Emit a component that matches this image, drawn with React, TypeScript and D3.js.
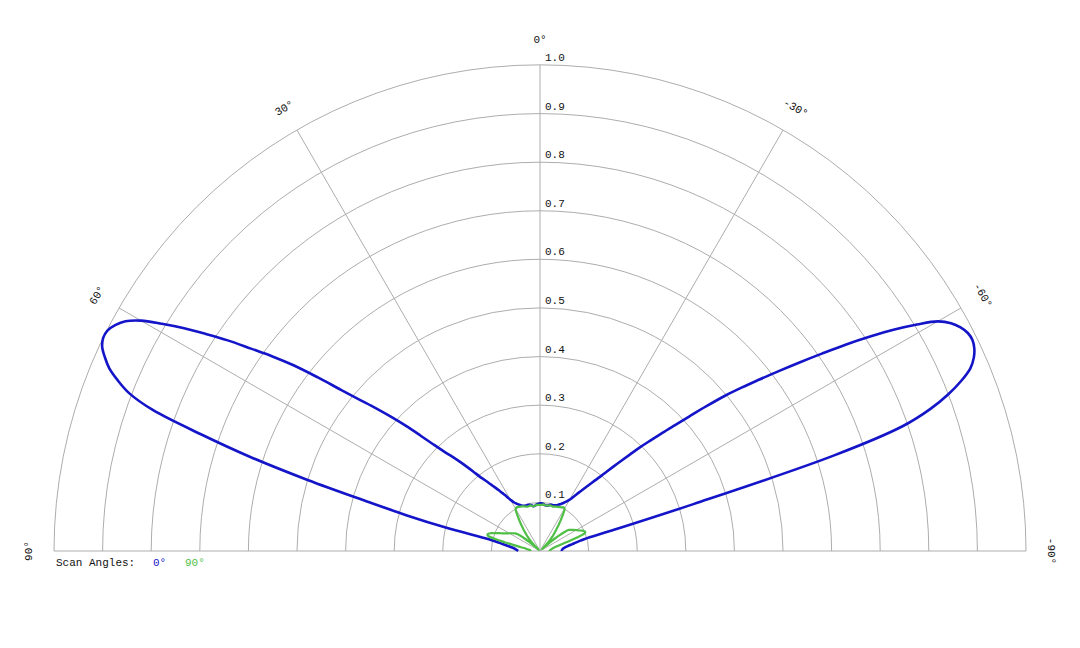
import React from "react";
import * as d3 from "d3";

// ---- data ----
const angles = [
  -90, -88, -86, -84, -82, -80,
  -79, -78, -77, -76, -75, -74, -73, -72, -71, -70,
  -69, -68, -67, -66, -65, -64, -63, -62, -61, -60,
  -59, -58, -57, -56, -55, -54, -53, -52, -51, -50,
  -49, -48, -47, -46, -45, -44, -43, -42, -41, -40,
  -39, -38, -37, -36, -35, -34, -33, -32, -31, -30,
  -28, -26, -24, -22, -20, -18, -16, -14, -12, -10, -8, -6, -4, -2,
  0,
  2, 4, 6, 8, 10, 12, 14, 16, 18, 20, 22, 24, 26, 28,
  30, 31, 32, 33, 34, 35, 36, 37, 38, 39,
  40, 41, 42, 43, 44, 45, 46, 47, 48, 49,
  50, 51, 52, 53, 54, 55, 56, 57, 58, 59,
  60, 61, 62, 63, 64, 65, 66, 67, 68, 69,
  70, 71, 72, 73, 74, 75, 76, 77, 78, 79,
  80, 82, 84, 86, 88, 90,
];

// Scan angle 0°
const scan0 = [
  0.045, 0.045, 0.046, 0.048, 0.052, 0.058,
  0.062, 0.068, 0.074, 0.082, 0.094, 0.16, 0.33, 0.635, 0.79, 0.855,
  0.9, 0.935, 0.962, 0.977, 0.986, 0.99, 0.988, 0.98, 0.967, 0.945,
  0.905, 0.86, 0.81, 0.76, 0.708, 0.66, 0.615, 0.573, 0.535, 0.497,
  0.455, 0.415, 0.38, 0.35, 0.322, 0.297, 0.272, 0.25, 0.23, 0.212,
  0.197, 0.185, 0.174, 0.164, 0.155, 0.147, 0.14, 0.133, 0.127, 0.122,
  0.115, 0.11, 0.106, 0.103, 0.1, 0.099, 0.098, 0.098, 0.097, 0.095, 0.094, 0.095, 0.097, 0.098,
  0.098,
  0.097, 0.096, 0.094, 0.093, 0.095, 0.097, 0.098, 0.098, 0.098, 0.099, 0.101, 0.104, 0.108, 0.113,
  0.122, 0.128, 0.135, 0.142, 0.15, 0.158, 0.166, 0.176, 0.186, 0.197,
  0.213, 0.23, 0.248, 0.266, 0.285, 0.31, 0.342, 0.378, 0.413, 0.448,
  0.484, 0.527, 0.58, 0.635, 0.682, 0.726, 0.775, 0.82, 0.866, 0.908,
  0.948, 0.975, 0.99, 0.999, 1.0, 0.994, 0.98, 0.963, 0.937, 0.905,
  0.847, 0.738, 0.628, 0.5, 0.372, 0.285, 0.2, 0.108, 0.092, 0.082,
  0.074, 0.062, 0.054, 0.05, 0.047, 0.045,
];

// Scan angle 90°
const scan90 = [
  0.02, 0.02, 0.021, 0.022, 0.023, 0.025,
  0.026, 0.027, 0.029, 0.031, 0.034, 0.038, 0.044, 0.052, 0.065, 0.08,
  0.094, 0.1, 0.101, 0.1, 0.098, 0.096, 0.093, 0.09, 0.088, 0.086,
  0.084, 0.082, 0.08, 0.078, 0.076, 0.074, 0.07, 0.062, 0.052, 0.04,
  0.028, 0.016, 0.008, 0.006, 0.011, 0.018, 0.025, 0.031, 0.037, 0.042,
  0.047, 0.052, 0.057, 0.063, 0.069, 0.076, 0.083, 0.09, 0.097, 0.101,
  0.102, 0.1, 0.099, 0.098, 0.097, 0.096, 0.095, 0.096, 0.096, 0.095, 0.094, 0.095, 0.096, 0.095,
  0.095,
  0.095, 0.095, 0.094, 0.093, 0.094, 0.096, 0.095, 0.095, 0.096, 0.098, 0.099, 0.1, 0.101, 0.102,
  0.1, 0.096, 0.089, 0.082, 0.076, 0.07, 0.064, 0.058, 0.053, 0.048,
  0.043, 0.038, 0.033, 0.027, 0.02, 0.013, 0.007, 0.004, 0.01, 0.02,
  0.03, 0.04, 0.05, 0.057, 0.061, 0.063, 0.065, 0.067, 0.069, 0.071,
  0.073, 0.075, 0.077, 0.08, 0.083, 0.086, 0.09, 0.094, 0.098, 0.102,
  0.107, 0.111, 0.113, 0.113, 0.11, 0.095, 0.075, 0.058, 0.046, 0.038,
  0.032, 0.026, 0.022, 0.02, 0.02, 0.02,
];

const ringTicks = [0.1, 0.2, 0.3, 0.4, 0.5, 0.6, 0.7, 0.8, 0.9, 1.0];
const spokeAngles = [-90, -60, -30, 0, 30, 60, 90];
const legendLabels = ["0°", "90°"];

const W = 1080;
const H = 648;
const cx = 540;
const cy = 551;
const R = 486;
const FONT = "'Liberation Mono', 'Courier New', monospace";
const BLUE = "#1414c8";
const GREEN = "#4fbf45";
const GRID = "#adadad";
const TEXT = "#111";

export default function App() {
  const r = d3.scaleLinear().domain([0, 1]).range([0, R]);
  const toRad = (deg: number) => (deg * Math.PI) / 180;

  const radialLine = d3
    .lineRadial<number>()
    .angle((_, i) => -toRad(angles[i]))
    .radius((d) => r(d))
    .curve(d3.curveCatmullRom.alpha(0.5));

  const ringPath = (v: number) => {
    const p = d3.path();
    p.arc(0, 0, r(v), Math.PI, 2 * Math.PI);
    return p.toString();
  };

  const labelR = R + 25;

  return (
    <svg
      width={W}
      height={H}
      style={{ position: "absolute", left: 0, top: 0, background: "#fff" }}
    >
      <g transform={`translate(${cx},${cy})`}>
        {ringTicks.map((v) => (
          <path key={v} d={ringPath(v)} fill="none" stroke={GRID} strokeWidth={1} />
        ))}
        {spokeAngles.map((a) => (
          <line
            key={a}
            x1={0}
            y1={0}
            x2={-r(1) * Math.sin(toRad(a))}
            y2={-r(1) * Math.cos(toRad(a))}
            stroke={GRID}
            strokeWidth={1}
          />
        ))}
        {ringTicks.map((v) => (
          <text
            key={"t" + v}
            x={5}
            y={-r(v) - 4}
            fontFamily={FONT}
            fontSize={11}
            fill={TEXT}
          >
            {v.toFixed(1)}
          </text>
        ))}
        {spokeAngles.map((a) => {
          const x = -labelR * Math.sin(toRad(a));
          const y = -labelR * Math.cos(toRad(a));
          return (
            <text
              key={"a" + a}
              transform={`translate(${x},${y}) rotate(${-a})`}
              textAnchor="middle"
              dominantBaseline="central"
              fontFamily={FONT}
              fontSize={11}
              fill={TEXT}
            >
              {`${a}°`}
            </text>
          );
        })}
        <path d={radialLine(scan0) || ""} fill="none" stroke={BLUE} strokeWidth={2.6} strokeLinejoin="round" />
        <path d={radialLine(scan90) || ""} fill="none" stroke={GREEN} strokeWidth={2.2} strokeLinejoin="round" />
      </g>
      <text x={56} y={566} fontFamily={FONT} fontSize={11} fill={TEXT}>
        Scan Angles:
      </text>
      <text x={153} y={566} fontFamily={FONT} fontSize={11} fill={BLUE}>
        {legendLabels[0]}
      </text>
      <text x={185} y={566} fontFamily={FONT} fontSize={11} fill={GREEN}>
        {legendLabels[1]}
      </text>
    </svg>
  );
}
